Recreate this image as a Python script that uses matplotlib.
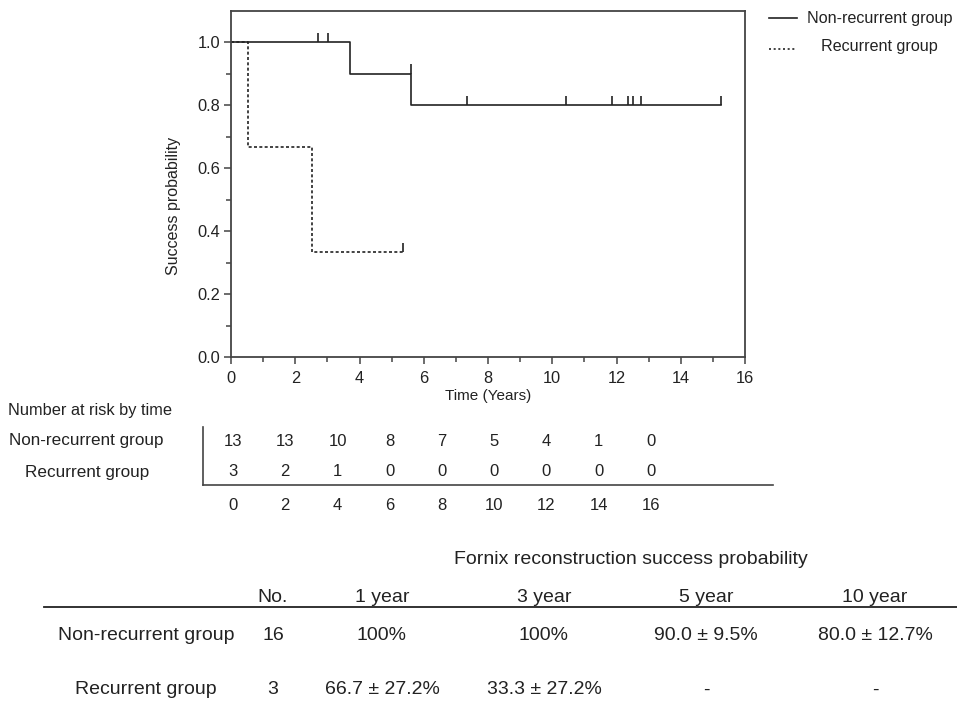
import matplotlib
matplotlib.use("Agg")
import matplotlib.pyplot as plt
from matplotlib.lines import Line2D

plt.rcParams['font.family'] = ['Liberation Sans', 'DejaVu Sans']

W, H = 957, 701
INK = '#222222'

# Kaplan-Meier steps
nonrec_t = [0, 3.70, 5.60, 15.25]
nonrec_s = [1.0, 0.9, 0.8, 0.8]
nonrec_cens_t = [2.71, 3.02, 5.60, 7.36, 10.43, 11.85, 12.35, 12.50, 12.76, 15.25]
nonrec_cens_s = [1.0, 1.0, 0.9, 0.8, 0.8, 0.8, 0.8, 0.8, 0.8, 0.8]

rec_t = [0, 0.52, 2.53, 5.35]
rec_s = [1.0, 0.667, 0.333, 0.333]
rec_cens_t = [5.35]
rec_cens_s = [0.333]

# number at risk
risk_times = [0, 2, 4, 6, 8, 10, 12, 14, 16]
risk_nonrec = [13, 13, 10, 8, 7, 5, 4, 1, 0]
risk_rec = [3, 2, 1, 0, 0, 0, 0, 0, 0]

# summary table
tbl_cols = ['No.', '1 year', '3 year', '5 year', '10 year']
tbl_rows = ['Non-recurrent group', 'Recurrent group']
tbl_nonrec = ['16', '100%', '100%', '90.0 ± 9.5%', '80.0 ± 12.7%']
tbl_rec = ['3', '66.7 ± 27.2%', '33.3 ± 27.2%', '-', '-']


def fx(x):
    return x / W


def fy(y):
    return 1 - y / H


fig = plt.figure(figsize=(W / 100, H / 100), dpi=100)

# main survival plot
ax = fig.add_axes([fx(231), fy(357), (745 - 231) / W, (357 - 11) / H])
ax.step(nonrec_t, nonrec_s, where='post', color=INK, lw=1.2)
ax.step(rec_t, rec_s, where='post', color=INK, lw=1.2, linestyle=(0, (1.8, 1.4)))
ax.vlines(nonrec_cens_t, nonrec_cens_s, [s + 0.03 for s in nonrec_cens_s], color=INK, lw=1.2)
ax.vlines(rec_cens_t, rec_cens_s, [s + 0.03 for s in rec_cens_s], color=INK, lw=1.2)

ax.set_xlim(0, 16)
ax.set_ylim(0, 1.10)
ax.set_xticks(range(0, 17, 2))
ax.set_xticks(range(1, 16, 2), minor=True)
ax.set_yticks([0.0, 0.2, 0.4, 0.6, 0.8, 1.0])
ax.set_yticks([0.1, 0.3, 0.5, 0.7, 0.9], minor=True)
ax.set_yticklabels(['0.0', '0.2', '0.4', '0.6', '0.8', '1.0'])
ax.tick_params(which='major', direction='out', length=5, width=1.1, color='#444444',
               labelsize=11.8, labelcolor=INK)
ax.tick_params(axis='x', which='major', pad=5)
ax.tick_params(axis='y', which='major', pad=3)
ax.tick_params(which='minor', direction='out', length=3.5, width=1.1, color='#444444')
for sp in ax.spines.values():
    sp.set_color('#444444')
    sp.set_linewidth(1.3)
ax.set_xlabel('Time (Years)', fontsize=11, color=INK, labelpad=2)
ax.set_ylabel('Success probability', fontsize=11.5, color=INK)
ax.yaxis.set_label_coords(-0.098, 0.436)

# legend
fig.add_artist(Line2D([fx(769), fx(797)], [fy(18), fy(18)], transform=fig.transFigure,
                      color=INK, lw=1.2))
fig.add_artist(Line2D([fx(769), fx(795)], [fy(49), fy(49)], transform=fig.transFigure,
                      color=INK, lw=1.2, linestyle=(0, (1.2, 1.6))))
fig.text(fx(807), fy(18), 'Non-recurrent group', fontsize=11.6, color=INK, va='center')
fig.text(fx(821), fy(47), 'Recurrent group', fontsize=11.6, color=INK, va='center')

# number at risk table
scale = (651 - 233) / 16
rx0 = -(233 - 203) / scale
rx1 = 16 + (773 - 651) / scale
rax = fig.add_axes([fx(203), fy(485), (773 - 203) / W, (485 - 427) / H])
rax.set_xlim(rx0, rx1)
rax.set_ylim(0, 1)
row_y = [(485 - 441) / 58, (485 - 472) / 58]
for t, a, b in zip(risk_times, risk_nonrec, risk_rec):
    rax.text(t, row_y[0], str(a), ha='center', va='center', fontsize=12, color=INK)
    rax.text(t, row_y[1], str(b), ha='center', va='center', fontsize=12, color=INK)
rax.set_xticks(risk_times)
rax.set_xticklabels([str(t) for t in risk_times])
rax.set_yticks([])
rax.tick_params(axis='x', length=0, labelsize=12, labelcolor=INK, pad=9)
rax.spines['top'].set_visible(False)
rax.spines['right'].set_visible(False)
for sp in ('left', 'bottom'):
    rax.spines[sp].set_color('#444444')
    rax.spines[sp].set_linewidth(1.2)
rax.patch.set_alpha(0)

fig.text(fx(8), fy(411), 'Number at risk by time', fontsize=11.8, color=INK, va='center')
fig.text(fx(86), fy(441), tbl_rows[0], fontsize=12.3, color=INK, va='center', ha='center')
fig.text(fx(87), fy(472), tbl_rows[1], fontsize=12.3, color=INK, va='center', ha='center')

# summary table
col_x = [273, 382, 544, 706, 875]
fig.text(fx(631), fy(560), 'Fornix reconstruction success probability', fontsize=14,
         color=INK, ha='center', va='center')
for x, c in zip(col_x, tbl_cols):
    fig.text(fx(x), fy(597), c, fontsize=14, color=INK, ha='center', va='center')
fig.add_artist(Line2D([fx(44), fx(957)], [fy(607), fy(607)], transform=fig.transFigure,
                      color=INK, lw=1.3))
for y, name, vals in zip([636, 690], tbl_rows, [tbl_nonrec, tbl_rec]):
    fig.text(fx(146), fy(y), name, fontsize=14, color=INK, ha='center', va='center')
    for x, v in zip(col_x, vals):
        fig.text(fx(x), fy(y), v, fontsize=14, color=INK, ha='center', va='center')

fig.savefig('out.png', dpi=100)
